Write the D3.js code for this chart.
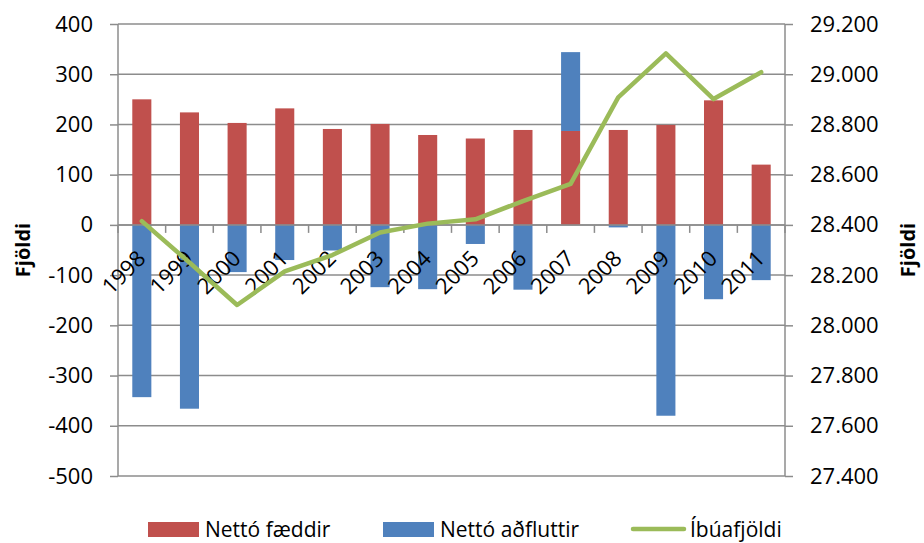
<!DOCTYPE html>
<html>
<head>
<meta charset="utf-8">
<script src="https://cdn.jsdelivr.net/npm/d3@7"></script>
<style>
  html, body { margin: 0; padding: 0; background: #fff; }
  svg { display: block; font-family: "Open Sans", "Noto Sans", sans-serif; }
</style>
</head>
<body>
<svg id="chart" width="924" height="543"></svg>
<script>
// Population change by year: net births, net migration, total population
const years = ["1998","1999","2000","2001","2002","2003","2004","2005","2006","2007","2008","2009","2010","2011"];
const nettoFaeddir = [250, 224, 203, 232, 191, 201, 179, 172, 189, 187, 189, 199, 248, 120];
const nettoAdfluttir = [-343, -366, -94, -70, -51, -124, -128, -38, -129, 157, -5, -380, -148, -110];
const ibuafjoldi = [28415, 28250, 28081, 28215, 28280, 28370, 28405, 28422, 28495, 28563, 28908, 29083, 28901, 29008];

const leftTicks = [400, 300, 200, 100, 0, -100, -200, -300, -400, -500];
const rightTicks = [29200, 29000, 28800, 28600, 28400, 28200, 28000, 27800, 27600, 27400];

const seriesNames = ["Nettó fæddir", "Nettó aðfluttir", "Íbúafjöldi"];
const colors = { red: "#C0504D", blue: "#4F81BD", green: "#9BBB59", grid: "#8c8c8c" };

const locale = d3.formatLocale({ decimal: ",", thousands: ".", grouping: [3], currency: ["", " kr."], minus: "-" });
const fmtLeft = locale.format("d");
const fmtRight = locale.format(",d");

const svg = d3.select("#chart");
const plot = { left: 118, right: 785, top: 24, bottom: 476 };

const x = d3.scaleBand().domain(years).range([plot.left, plot.right]).paddingInner(0.6).paddingOuter(0.3);
const xBand = d3.scaleBand().domain(years).range([plot.left, plot.right]);
const yL = d3.scaleLinear().domain([-500, 400]).range([plot.bottom, plot.top]);
const yR = d3.scaleLinear().domain([27400, 29200]).range([plot.bottom, plot.top]);

// Horizontal gridlines
svg.append("g").selectAll("line").data(leftTicks).join("line")
  .attr("x1", plot.left).attr("x2", plot.right)
  .attr("y1", d => yL(d)).attr("y2", d => yL(d))
  .attr("stroke", colors.grid).attr("stroke-width", 1.5);

// Stacked bars (diverging)
const rows = years.map((yr, i) => ({ year: yr, fæddir: nettoFaeddir[i], aðfluttir: nettoAdfluttir[i] }));
const stack = d3.stack().keys(["fæddir", "aðfluttir"]).offset(d3.stackOffsetDiverging);
const stacked = stack(rows);
const barColors = [colors.red, colors.blue];

svg.append("g").selectAll("g").data(stacked).join("g")
  .attr("fill", (d, i) => barColors[i])
  .selectAll("rect").data(d => d).join("rect")
  .attr("x", d => x(d.data.year))
  .attr("width", x.bandwidth())
  .attr("y", d => yL(Math.max(d[0], d[1])))
  .attr("height", d => Math.abs(yL(d[0]) - yL(d[1])));

// Left axis
const leftAxis = d3.axisLeft(yL).tickValues(leftTicks).tickFormat(fmtLeft).tickSize(8).tickPadding(17);
const gL = svg.append("g").attr("transform", `translate(${plot.left},0)`).call(leftAxis);
gL.select(".domain").attr("stroke", colors.grid).attr("stroke-width", 1.5).attr("d", `M0,${plot.top}V${plot.bottom}`);
gL.selectAll(".tick line").attr("stroke", colors.grid).attr("stroke-width", 1.5);
gL.selectAll(".tick text").attr("font-size", 22).attr("fill", "#000").attr("font-family", "'Open Sans', sans-serif");

// Right axis
const rightAxis = d3.axisRight(yR).tickValues(rightTicks).tickFormat(fmtRight).tickSize(8).tickPadding(17);
const gR = svg.append("g").attr("transform", `translate(${plot.right},0)`).call(rightAxis);
gR.select(".domain").attr("stroke", colors.grid).attr("stroke-width", 1.5).attr("d", `M0,${plot.top}V${plot.bottom}`);
gR.selectAll(".tick line").attr("stroke", colors.grid).attr("stroke-width", 1.5);
gR.selectAll(".tick text").attr("font-size", 22).attr("fill", "#000").attr("font-family", "'Open Sans', sans-serif");

// Category axis at zero: tick marks on band boundaries
const y0 = yL(0);
const bounds = years.map(d => xBand(d)).concat([plot.right]);
svg.append("g").selectAll("line").data(bounds).join("line")
  .attr("x1", d => d).attr("x2", d => d)
  .attr("y1", y0).attr("y2", y0 + 8)
  .attr("stroke", colors.grid).attr("stroke-width", 1.5);
svg.append("line").attr("x1", plot.left).attr("x2", plot.right)
  .attr("y1", y0).attr("y2", y0).attr("stroke", colors.grid).attr("stroke-width", 1.5);

// Rotated year labels
svg.append("g").selectAll("text").data(years).join("text")
  .attr("transform", d => `translate(${xBand(d) + xBand.bandwidth() / 2 + 5},${y0 + 35}) rotate(-45)`)
  .attr("text-anchor", "end")
  .attr("font-size", 22)
  .attr("fill", "#000")
  .text(d => d);

// Population line on the right axis
const line = d3.line()
  .x((d, i) => xBand(years[i]) + xBand.bandwidth() / 2)
  .y(d => yR(d));
svg.append("path").datum(ibuafjoldi)
  .attr("d", line)
  .attr("fill", "none")
  .attr("stroke", colors.green)
  .attr("stroke-width", 4.5)
  .attr("stroke-linejoin", "round")
  .attr("stroke-linecap", "round");

// Axis titles
svg.append("text")
  .attr("transform", `translate(30,${(plot.top + plot.bottom) / 2}) rotate(-90)`)
  .attr("text-anchor", "middle").attr("font-size", 20).attr("font-weight", "bold")
  .text("Fjöldi");
svg.append("text")
  .attr("transform", `translate(915,${(plot.top + plot.bottom) / 2}) rotate(-90)`)
  .attr("text-anchor", "middle").attr("font-size", 20).attr("font-weight", "bold")
  .text("Fjöldi");

// Legend
const legend = [
  { name: seriesNames[0], type: "rect", color: colors.red, x: 148 },
  { name: seriesNames[1], type: "rect", color: colors.blue, x: 383 },
  { name: seriesNames[2], type: "line", color: colors.green, x: 633 }
];
const lg = svg.append("g");
legend.forEach(item => {
  if (item.type === "rect") {
    lg.append("rect").attr("x", item.x).attr("y", 522).attr("width", 51).attr("height", 15).attr("fill", item.color);
  } else {
    lg.append("line").attr("x1", item.x).attr("x2", item.x + 51).attr("y1", 529).attr("y2", 529)
      .attr("stroke", item.color).attr("stroke-width", 4.5).attr("stroke-linecap", "round");
  }
  lg.append("text").attr("x", item.x + 57).attr("y", 537).attr("font-size", 21).attr("fill", "#000").text(item.name);
});
</script>
</body>
</html>
